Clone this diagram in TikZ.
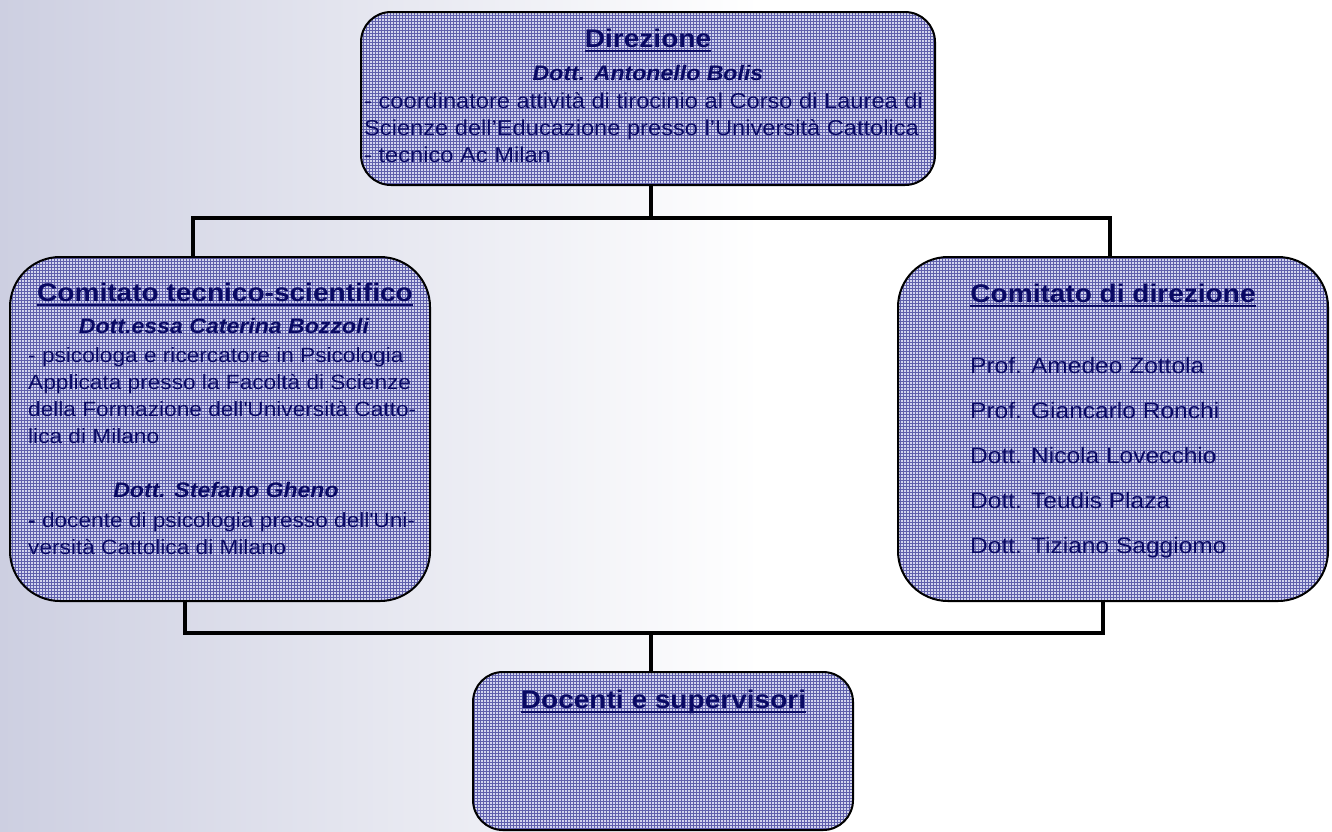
\documentclass[tikz,border=0pt]{standalone}
\usepackage{fontspec}
\setmainfont{Liberation Sans}[FakeStretch=1.1]
\usetikzlibrary{patterns}
\newcommand{\ulined}[1]{\setbox0\hbox{#1}\leavevmode\rlap{\vrule height -3pt depth 5pt width \wd0}\box0}
\definecolor{orgtext}{RGB}{10,10,100}
\definecolor{bgleft}{RGB}{205,207,225}
\definecolor{boxbase}{RGB}{210,212,238}
\definecolor{gridc}{RGB}{95,95,172}
\tikzset{
  box/.style={rectangle, preaction={fill=boxbase}, pattern=grid, pattern color=gridc,
    draw=black, line width=2pt},
  conn/.style={line width=4.5pt, black},
  ttl/.style={anchor=base, text=orgtext, inner sep=0pt, font=\fontsize{25.5}{30}\selectfont\bfseries},
  who/.style={anchor=base, text=orgtext, inner sep=0pt, font=\fontsize{21}{27}\selectfont\bfseries\itshape},
  txt/.style={anchor=base west, text=orgtext, inner sep=0pt, font=\fontsize{21.5}{27}\selectfont},
  txtsm/.style={txt, font=\fontsize{20.6}{27}\selectfont},
  nam/.style={anchor=base west, text=orgtext, inner sep=0pt, font=\fontsize{22.3}{27}\selectfont},
}
\begin{document}
\begin{tikzpicture}[x=1pt,y=-1pt]
  \useasboundingbox (0,0) rectangle (1332,831);
  % background
  \shade[left color=bgleft, right color=white] (0,0) rectangle (760,831);

  % boxes
  \node[box, rounded corners=30pt, minimum width=574pt, minimum height=173pt] (dir) at (648,98.5) {};
  \node[box, rounded corners=50pt, minimum width=420pt, minimum height=344pt] (ct) at (220,429) {};
  \node[box, rounded corners=50pt, minimum width=430pt, minimum height=344pt] (cd) at (1113,429) {};
  \node[box, rounded corners=30pt, minimum width=380pt, minimum height=158pt] (ds) at (663,751) {};

  % connectors
  \coordinate (jt) at (651,218);
  \coordinate (jl) at (193,218);
  \coordinate (jr) at (1110,218);
  \coordinate (jb) at (651,633);
  \coordinate (bl) at (185,633);
  \coordinate (br) at (1103,633);
  \draw[conn] (dir.south -| jt) -- (jt);
  \draw[conn] (ct.north -| jl) -- (jl) -- (jr) -- (cd.north -| jr);
  \draw[conn] (ct.south -| bl) -- (bl) -- (br) -- (cd.south -| br);
  \draw[conn] (jb) -- (ds.north -| jb);

  % Direzione
  \node[ttl] (dirT) at (648,47) {\ulined{Direzione}};
  \node[who] (dirW) at (648,80) {Dott. Antonello Bolis};
  \foreach \t [count=\i from 0] in {- coordinatore attività di tirocinio al Corso di Laurea di,
      Scienze dell’Educazione presso l’Università Cattolica,
      - tecnico Ac Milan}
    \node[txt] (dirB\i) at (364,{108+27*\i}) {\t};

  % Comitato tecnico-scientifico
  \node[ttl] (ctT) at (225,301) {\ulined{Comitato tecnico-scientifico}};
  \node[who] (ctW1) at (224,333) {Dott.essa Caterina Bozzoli};
  \foreach \t [count=\i from 0] in {- psicologa e ricercatore in Psicologia,
      Applicata presso la Facoltà di Scienze,
      della Formazione dell\textquotesingle Università Catto-,
      lica di Milano}
    \node[txtsm] (ctA\i) at (28,{362+27*\i}) {\t};
  \node[who] (ctW2) at (226,497) {Dott. Stefano Gheno};
  \node[txtsm] (ctB0) at (28,527) {{\bfseries -} docente di psicologia presso dell\textquotesingle Uni-};
  \node[txtsm] (ctB1) at (28,554) {versità Cattolica di Milano};

  % Comitato di direzione
  \node[ttl] (cdT) at (1113,302) {\ulined{Comitato di direzione}};
  \foreach \t [count=\i from 0] in {Prof. Amedeo Zottola, Prof. Giancarlo Ronchi,
      Dott. Nicola Lovecchio, Dott. Teudis Plaza, Dott. Tiziano Saggiomo}
    \node[nam] (cdN\i) at (970,{373+45*\i}) {\t};

  % Docenti e supervisori
  \node[ttl] (dsT) at (663.5,708) {\ulined{Docenti e supervisori}};
\end{tikzpicture}
\end{document}
